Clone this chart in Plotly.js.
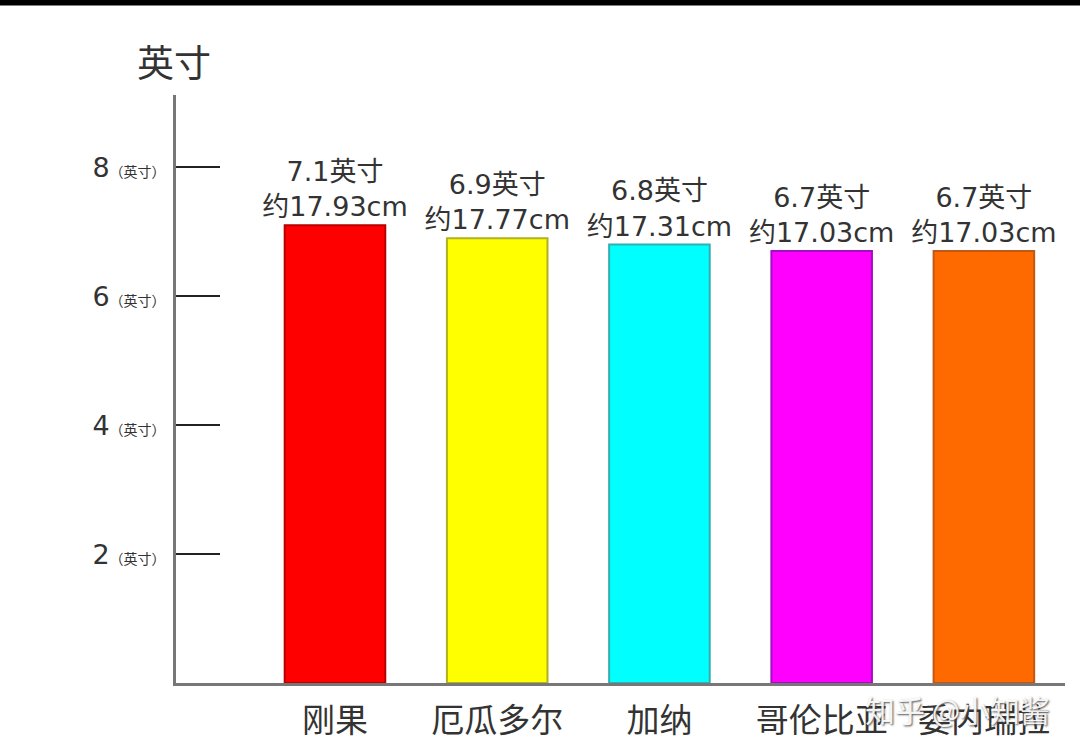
<!DOCTYPE html>
<html>
<head>
<meta charset="utf-8">
<script src="https://cdn.plot.ly/plotly-3.0.1.min.js"></script>
<style>html,body{margin:0;padding:0;background:#fff;}#chart{width:1080px;height:747px;}</style>
</head>
<body>
<div id="chart"></div>
<script>
const categories = ['刚果', '厄瓜多尔', '加纳', '哥伦比亚', '委内瑞拉'];
const inches = [7.1, 6.9, 6.8, 6.7, 6.7];
const cm = [17.93, 17.77, 17.31, 17.03, 17.03];
const yTickVals = [2, 4, 6, 8];
const yTickUnit = '（英寸）';
const yTitle = '英寸';
const watermark = '知乎 @小知酱';

const fillColors = ['#ff0000', '#ffff00', '#00ffff', '#ff00ff', '#ff6a00'];
const edgeColors = ['#b80000', '#b0b020', '#30b0b0', '#a010c0', '#c05818'];

const FONT = '"Noto Sans CJK SC", "Noto Sans", sans-serif';
const NUMFONT = '"DejaVu Sans", "Noto Sans CJK SC", sans-serif';

const labels = inches.map((v, i) => v.toFixed(1) + '英寸<br>约' + cm[i].toFixed(2) + 'cm');

const trace = {
  type: 'bar',
  x: categories,
  y: inches,
  width: 0.62,
  marker: {color: fillColors, line: {color: edgeColors, width: 2}},
  text: labels,
  textposition: 'outside',
  constraintext: 'none',
  textfont: {family: NUMFONT, size: 27, color: '#333'},
  cliponaxis: false,
  hoverinfo: 'skip'
};

const layout = {
  width: 1080, height: 747,
  margin: {l: 176, r: 15, t: 95, b: 64},
  paper_bgcolor: '#fff', plot_bgcolor: '#fff',
  showlegend: false,
  font: {family: FONT, color: '#333'},
  xaxis: {
    range: [-0.98, 4.5],
    showline: true, linecolor: '#777', linewidth: 3,
    showgrid: false, zeroline: false, ticks: '',
    tickfont: {family: FONT, size: 33, color: '#333'},
    ticklabelstandoff: 6,
    fixedrange: true
  },
  yaxis: {
    range: [0, 9.12],
    showline: true, linecolor: '#777', linewidth: 3,
    showgrid: false, zeroline: false,
    ticks: 'inside', ticklen: 44, tickwidth: 2, tickcolor: '#222',
    tickvals: yTickVals,
    ticktext: yTickVals.map(v => v + '<span style="font-size:14px">' + yTickUnit + '</span>'),
    tickfont: {family: NUMFONT, size: 27, color: '#333'},
    ticklabelstandoff: 2,
    fixedrange: true
  },
  shapes: [
    {type: 'rect', xref: 'paper', yref: 'paper', x0: -0.25, x1: 1.05, y0: 1.152, y1: 1.17,
     fillcolor: '#000', line: {width: 0}, layer: 'above'}
  ],
  annotations: [
    {xref: 'paper', yref: 'paper', x: -0.002, y: 1.058, text: yTitle, showarrow: false,
     xanchor: 'center', yanchor: 'middle', font: {family: FONT, size: 37, color: '#333'}},
    {xref: 'paper', yref: 'paper', x: 0.985, y: -0.045, text: watermark, showarrow: false,
     xanchor: 'right', yanchor: 'middle',
     font: {family: FONT, size: 30, color: 'rgba(255,255,255,0.92)', shadow: '1px 1px 2px #444'}}
  ]
};

Plotly.newPlot('chart', [trace], layout, {displayModeBar: false, staticPlot: true});
</script>
</body>
</html>
